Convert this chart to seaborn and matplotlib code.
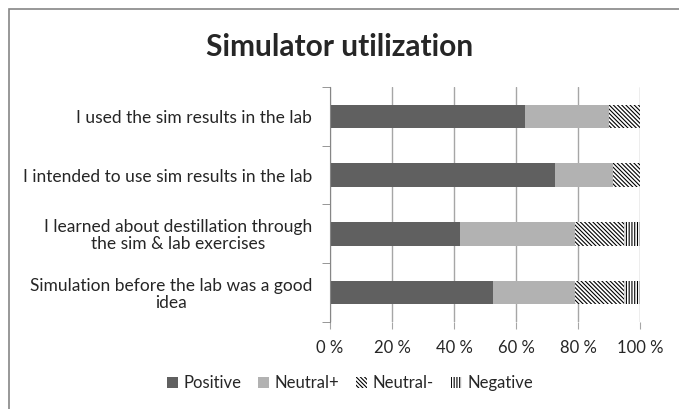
# stacked horizontal bar chart of simulator survey answers

import matplotlib
matplotlib.use('Agg')
import matplotlib.pyplot as plt
import pandas as pd
import seaborn as sb
from matplotlib.patches import Patch, Rectangle
from matplotlib.ticker import FixedLocator

# data (percent of answers)
questions = ['I used the sim results in the lab',
             'I intended to use sim results in the lab',
             'I learned about destillation through\nthe sim & lab exercises',
             'Simulation before the lab was a good\nidea']
positive = [63.0, 72.7, 42.0, 52.5]
neutral_plus = [27.0, 18.5, 37.0, 26.5]
neutral_minus = [10.0, 8.8, 15.8, 15.8]
negative = [0.0, 0.0, 5.2, 5.2]
series = ['Positive', 'Neutral+', 'Neutral-', 'Negative']
xticks = [0, 20, 40, 60, 80, 100]

data = pd.DataFrame({'question': questions, 'Positive': positive, 'Neutral+': neutral_plus,
                     'Neutral-': neutral_minus, 'Negative': negative})
cum = data[series].cumsum(axis = 1)
cum['question'] = questions

sb.set_style('white')
plt.rcParams['font.family'] = ['Lato', 'DejaVu Sans']
plt.rcParams['hatch.linewidth'] = 0.8

styles = {'Positive': dict(color = '#606060', hatch = None),
          'Neutral+': dict(color = '#b2b2b2', hatch = None),
          'Neutral-': dict(color = 'white', hatch = '\\' * 8),
          'Negative': dict(color = 'white', hatch = '|' * 6)}

fig = plt.figure(figsize = (6.79, 4.09), dpi = 100)
ax = fig.add_axes([330/679, 1-322/409, 310/679, 235/409])

# draw from the longest cumulative bar down so shorter ones sit on top
for s in reversed(series):
    st = styles[s]
    sb.barplot(data = cum, x = s, y = 'question', order = questions, orient = 'h', ax = ax,
               color = st['color'], hatch = st['hatch'], edgecolor = 'black' if st['hatch'] else st['color'],
               linewidth = 0, width = 0.4, saturation = 1)

ax.set_xlim(0, 100)
ax.set_ylim(3.5, -0.5)
ax.set_xlabel('')
ax.set_ylabel('')
ax.set_xticks(xticks)
ax.set_xticklabels([f'{t} %' for t in xticks], fontsize = 12)
ax.grid(axis = 'x', color = '#a6a6a6', linewidth = 1)
ax.set_axisbelow(True)
for sp in ['top', 'right', 'bottom']:
    ax.spines[sp].set_visible(False)
ax.spines['left'].set_color('#868686')
ax.tick_params(axis = 'x', length = 5, color = '#a6a6a6', pad = 8, direction = 'out', bottom = True)
ax.tick_params(axis = 'y', which = 'major', length = 0, pad = 13, labelsize = 12.5)
ax.yaxis.set_minor_locator(FixedLocator([-0.5, 0.5, 1.5, 2.5, 3.5]))
ax.tick_params(axis = 'y', which = 'minor', length = 6, color = '#868686', left = True)
for lab in ax.get_yticklabels():
    lab.set_multialignment('center')
    lab.set_linespacing(1.05)

fig.text(0.5, 1-47/409, 'Simulator utilization', ha = 'center', va = 'center', fontsize = 21.5, fontweight = 'bold')

handles = [Patch(facecolor = styles[s]['color'], hatch = styles[s]['hatch'],
                 edgecolor = 'black' if styles[s]['hatch'] else styles[s]['color'], linewidth = 0) for s in series]
fig.legend(handles, series, loc = 'center', bbox_to_anchor = (350/679, 1-383/409), ncol = 4, frameon = False,
           fontsize = 12, handlelength = 0.65, handleheight = 0.65, handletextpad = 0.35, columnspacing = 1.0)

fig.patches.append(Rectangle((9/679, -0.1), 2, 1-9/409+0.1, transform = fig.transFigure,
                             fill = False, edgecolor = '#868686', linewidth = 1.2))

fig.savefig('out.png', dpi = 100)
